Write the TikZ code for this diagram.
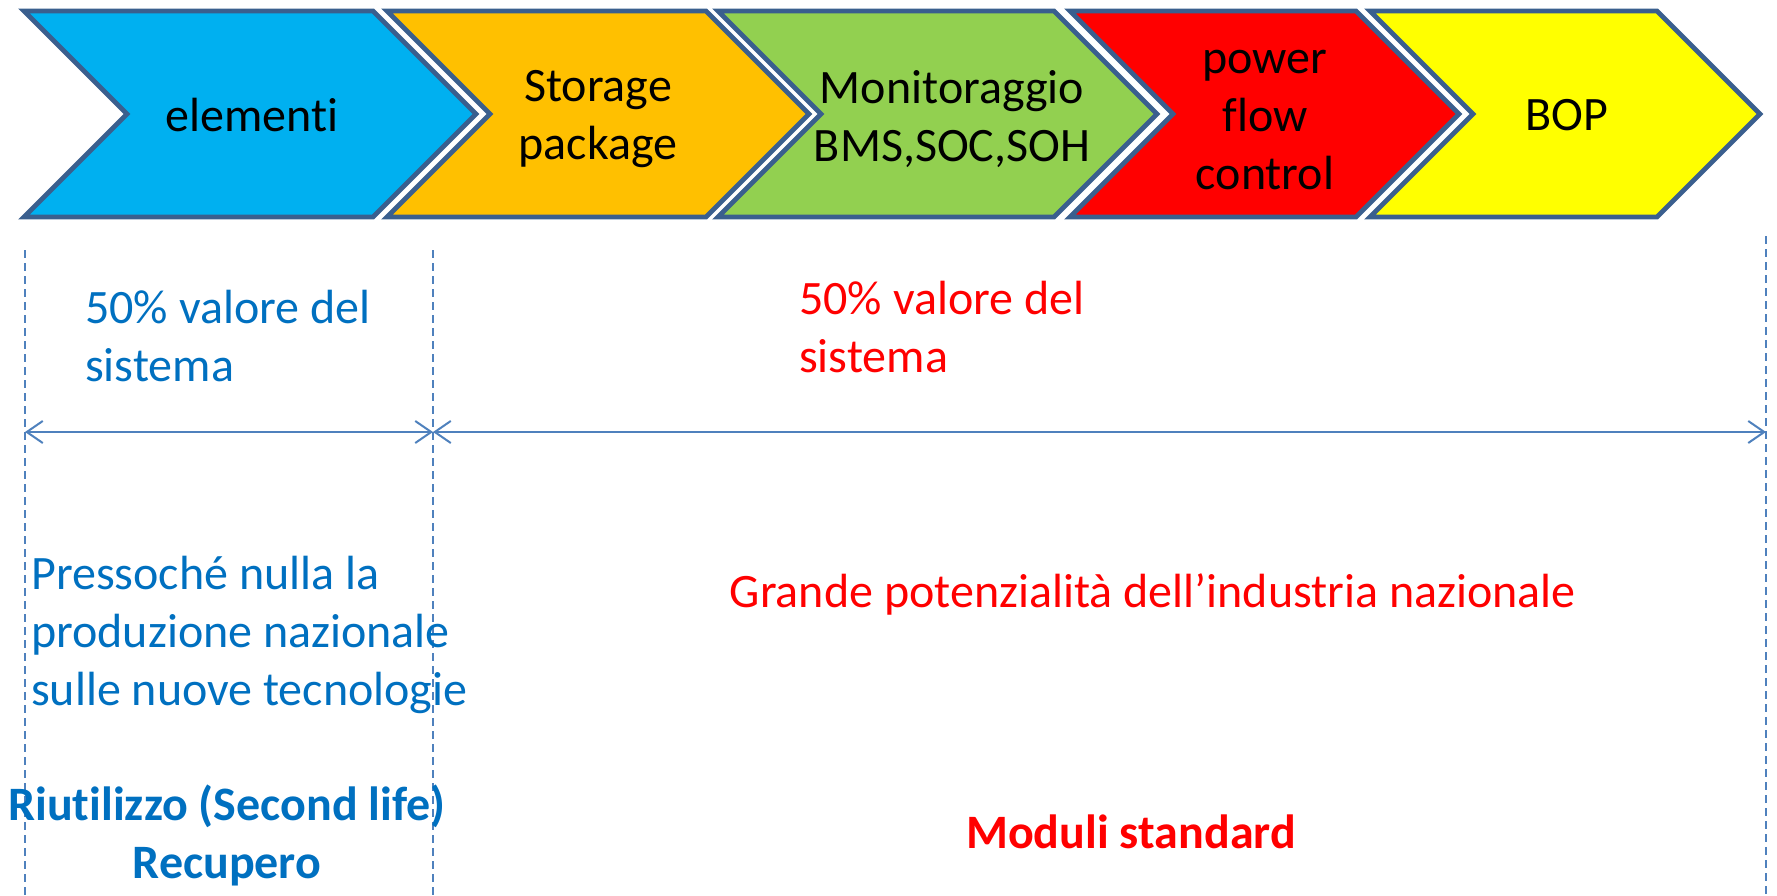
\documentclass[tikz,border=0pt]{standalone}
\usepackage{fontspec}
\setmainfont{Carlito}[Ligatures=NoCommon]
\usetikzlibrary{arrows.meta}
\definecolor{outl}{HTML}{3A5F8E}
\definecolor{lnblue}{HTML}{4F81BD}
\definecolor{txblue}{HTML}{0070C0}
\definecolor{txred}{HTML}{FF0000}
\definecolor{cblue}{HTML}{00B0F0}
\definecolor{corange}{HTML}{FFC000}
\definecolor{cgreen}{HTML}{92D050}
\definecolor{cred}{HTML}{FF0000}
\definecolor{cyellow}{HTML}{FFFF00}
\begin{document}
\begin{tikzpicture}[x=1pt,y=-1pt,
  chev/.style={draw=outl, line width=4.8pt, line join=miter},
  chevtext/.style={font=\fontsize{48}{58}\selectfont, align=center, inner sep=0pt, text=black},
  bigtext/.style={font=\fontsize{48}{58}\selectfont, inner sep=0pt},
  boldtext/.style={font=\fontsize{48}{58}\selectfont\bfseries, inner sep=0pt},
  guide/.style={draw=lnblue, line width=2pt, dash pattern=on 8pt off 5pt},
  span/.style={draw=lnblue, line width=2pt, {Straight Barb[length=16pt,width=22pt]}-{Straight Barb[length=16pt,width=22pt]}}
]
\useasboundingbox (0,0) rectangle (1777,896);

% chevrons
\path[chev, fill=cblue]   (24,11) -- (373,11) -- (476,114) -- (373,217) -- (24,217) -- (127,114) -- cycle;
\path[chev, fill=corange] (387,11) -- (706,11) -- (809,114) -- (706,217) -- (387,217) -- (490,114) -- cycle;
\path[chev, fill=cgreen]  (718,11) -- (1054,11) -- (1157,114) -- (1054,217) -- (718,217) -- (821,114) -- cycle;
\path[chev, fill=cred]    (1070,11) -- (1356,11) -- (1459,114) -- (1356,217) -- (1070,217) -- (1173,114) -- cycle;
\path[chev, fill=cyellow] (1370,11) -- (1657,11) -- (1760,114) -- (1657,217) -- (1370,217) -- (1473,114) -- cycle;

\node[chevtext] (elem) at (252,115) {elementi};
\node[chevtext] (stor) at (598,119) {Storage\\package};
\node[chevtext] (moni) at (952,119) {Monitoraggio\\BMS,SOC,SOH};
\node[chevtext] (powr) at (1265,120) {power\\flow\\control};
\node[chevtext] (bop)  at (1567,115) {BOP};

% guide lines
\coordinate (g0t) at (25,250);
\coordinate (g0b) at (25,896);
\coordinate (g1t) at (433,250);
\coordinate (g1b) at (433,896);
\coordinate (g2t) at (1766,236);
\coordinate (g2b) at (1766,896);
\draw[guide] (g0t) -- (g0b);
\draw[guide] (g1t) -- (g1b);
\draw[guide] (g2t) -- (g2b);

\coordinate (a0) at (25,432);
\coordinate (a1) at (433,432);
\coordinate (a2) at (1766,432);
\draw[span] (a0) -- (a1);
\draw[span] (a1) -- (a2);

% texts
\node[bigtext, text=txblue, align=left, anchor=west] (v1) at (85,336) {50\% valore del\\sistema};
\node[bigtext, text=txred, align=left, anchor=west] (v2) at (799,327) {50\% valore del\\sistema};
\node[bigtext, text=txblue, align=left, anchor=west] (pn) at (31,635) {Pressoché nulla la\\produzione nazionale\\sulle nuove tecnologie};
\node[bigtext, text=txred] (gp) at (1153,594) {Grande potenzialità dell’industria nazionale};
\node[boldtext, text=txblue, align=center] (ri) at (227,835) {Riutilizzo (Second life)\\Recupero};
\node[boldtext, text=txred] (ms) at (1131,832) {Moduli standard};
\end{tikzpicture}
\end{document}
